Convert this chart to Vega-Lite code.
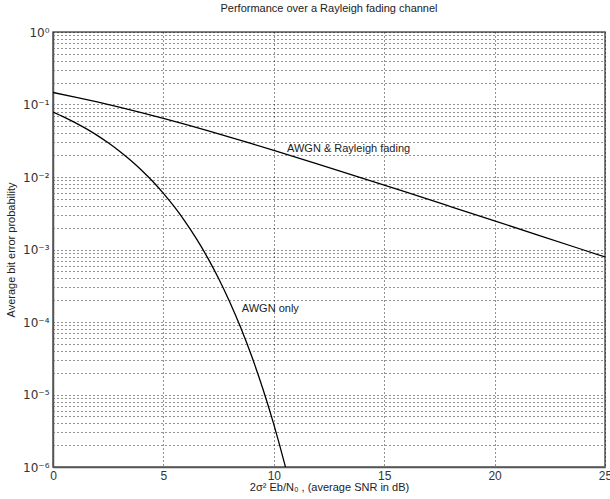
{
  "$schema": "https://vega.github.io/schema/vega-lite/v6.json",
  "autosize": {"type": "none"},
  "padding": {"left": 53, "top": 32, "right": 5, "bottom": 32},
  "width": 552,
  "height": 435,
  "background": "white",
  "title": {"text": "Performance over a Rayleigh fading channel", "font": "Liberation Sans", "fontSize": 11, "fontWeight": "normal", "color": "#222", "offset": 12},
  "config": {"view": {"stroke": "#555", "strokeWidth": 1.5}},
  "datasets": {
    "curves": [
      {"series": "Rayleigh", "x": 0, "y": 0.14645},
      {"series": "Rayleigh", "x": 1, "y": 0.12673},
      {"series": "Rayleigh", "x": 2, "y": 0.10848},
      {"series": "Rayleigh", "x": 3, "y": 0.091915},
      {"series": "Rayleigh", "x": 4, "y": 0.077135},
      {"series": "Rayleigh", "x": 5, "y": 0.06418},
      {"series": "Rayleigh", "x": 6, "y": 0.053},
      {"series": "Rayleigh", "x": 7, "y": 0.04347},
      {"series": "Rayleigh", "x": 8, "y": 0.035455},
      {"series": "Rayleigh", "x": 9, "y": 0.02878},
      {"series": "Rayleigh", "x": 10, "y": 0.02327},
      {"series": "Rayleigh", "x": 12, "y": 0.015065},
      {"series": "Rayleigh", "x": 14, "y": 0.009665},
      {"series": "Rayleigh", "x": 16, "y": 0.006165},
      {"series": "Rayleigh", "x": 18, "y": 0.003915},
      {"series": "Rayleigh", "x": 20, "y": 0.0024815},
      {"series": "Rayleigh", "x": 22, "y": 0.00157},
      {"series": "Rayleigh", "x": 24, "y": 0.000992},
      {"series": "Rayleigh", "x": 25, "y": 0.000788},
      {"series": "AWGN", "x": 0, "y": 0.07865},
      {"series": "AWGN", "x": 0.5, "y": 0.06706},
      {"series": "AWGN", "x": 1, "y": 0.05628},
      {"series": "AWGN", "x": 1.5, "y": 0.0464},
      {"series": "AWGN", "x": 2, "y": 0.03751},
      {"series": "AWGN", "x": 2.5, "y": 0.02965},
      {"series": "AWGN", "x": 3, "y": 0.02288},
      {"series": "AWGN", "x": 3.5, "y": 0.01717},
      {"series": "AWGN", "x": 4, "y": 0.0125},
      {"series": "AWGN", "x": 4.5, "y": 0.008793},
      {"series": "AWGN", "x": 5, "y": 0.005954},
      {"series": "AWGN", "x": 5.5, "y": 0.003861},
      {"series": "AWGN", "x": 6, "y": 0.002388},
      {"series": "AWGN", "x": 6.5, "y": 0.001399},
      {"series": "AWGN", "x": 7, "y": 0.0007727},
      {"series": "AWGN", "x": 7.5, "y": 0.0003988},
      {"series": "AWGN", "x": 8, "y": 0.0001909},
      {"series": "AWGN", "x": 8.5, "y": 0.000084},
      {"series": "AWGN", "x": 9, "y": 0.00003362},
      {"series": "AWGN", "x": 9.5, "y": 0.0000121},
      {"series": "AWGN", "x": 10, "y": 0.000003872},
      {"series": "AWGN", "x": 10.5, "y": 0.000001077},
      {"series": "AWGN", "x": 10.6, "y": 0.00000082}
    ],
    "labels": [
      {"label": "AWGN & Rayleigh fading", "x": 10.6, "y": 0.024},
      {"label": "AWGN only", "x": 8.55, "y": 0.00015}
    ]
  },
  "layer": [
    {
      "data": {"name": "curves"},
      "mark": {"type": "line", "color": "#000", "strokeWidth": 1.3, "clip": true, "interpolate": "monotone"},
      "encoding": {
        "x": {
          "field": "x", "type": "quantitative",
          "scale": {"domain": [0, 25], "nice": false, "zero": false},
          "axis": {
            "title": "2σ² Eb/N₀ , (average SNR in dB)",
            "titleFont": "Liberation Sans", "titleFontSize": 11, "titleFontWeight": "normal", "titleColor": "#222", "titlePadding": 0,
            "values": [0, 5, 10, 15, 20, 25],
            "labelFont": "Liberation Sans", "labelFontSize": 12, "labelColor": "#333", "labelPadding": 3,
            "tickSize": 0, "domainColor": "#555", "domainWidth": 1.5,
            "grid": true, "gridColor": "#000", "gridDash": [1, 3], "gridOpacity": 0.85, "gridWidth": 1,
            "labelOverlap": false, "labelFlush": false
          }
        },
        "y": {
          "field": "y", "type": "quantitative",
          "scale": {"type": "log", "domain": [0.000001, 1], "nice": false},
          "axis": {
            "title": "Average bit error probability",
            "titleFont": "Liberation Sans", "titleFontSize": 11, "titleFontWeight": "normal", "titleColor": "#222", "titlePadding": 6,
            "values": [0.000001, 0.000002, 0.000003, 0.000004, 0.000005, 0.000006, 0.000007, 0.000008, 0.000009,
                       0.00001, 0.00002, 0.00003, 0.00004, 0.00005, 0.00006, 0.00007, 0.00008, 0.00009,
                       0.0001, 0.0002, 0.0003, 0.0004, 0.0005, 0.0006, 0.0007, 0.0008, 0.0009,
                       0.001, 0.002, 0.003, 0.004, 0.005, 0.006, 0.007, 0.008, 0.009,
                       0.01, 0.02, 0.03, 0.04, 0.05, 0.06, 0.07, 0.08, 0.09,
                       0.1, 0.2, 0.3, 0.4, 0.5, 0.6, 0.7, 0.8, 0.9, 1],
            "labelExpr": "datum.value == 1 ? '10⁰' : datum.value == 0.1 ? '10⁻¹' : datum.value == 0.01 ? '10⁻²' : datum.value == 0.001 ? '10⁻³' : datum.value == 0.0001 ? '10⁻⁴' : datum.value == 0.00001 ? '10⁻⁵' : datum.value == 0.000001 ? '10⁻⁶' : ''",
            "labelFont": "DejaVu Sans", "labelFontSize": 12, "labelColor": "#333", "labelPadding": 4,
            "labelOverlap": false, "labelFlush": false,
            "tickSize": 0, "domainColor": "#555", "domainWidth": 1.5,
            "grid": true, "gridColor": "#000", "gridDash": [1, 3], "gridOpacity": 0.85, "gridWidth": 1
          }
        },
        "detail": {"field": "series"}
      }
    },
    {
      "data": {"name": "labels"},
      "mark": {"type": "text", "align": "left", "baseline": "middle", "font": "Liberation Sans", "fontSize": 11, "color": "#222"},
      "encoding": {
        "x": {"field": "x", "type": "quantitative"},
        "y": {"field": "y", "type": "quantitative"},
        "text": {"field": "label"}
      }
    }
  ]
}
